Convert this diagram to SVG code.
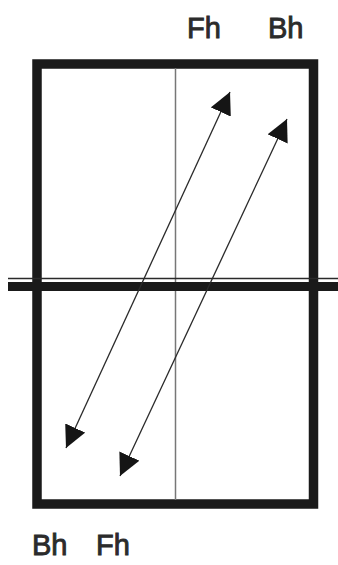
<svg xmlns="http://www.w3.org/2000/svg" width="338" height="565" viewBox="0 0 338 565">
  <style>
    .lbl { font-family: "Liberation Sans", Arial, sans-serif; font-size: 29px; fill: #2b2b2b; stroke: #2b2b2b; stroke-width: 0.9; }
    .shaft { stroke: #2a2a2a; stroke-width: 1.3; fill: none; marker-start: url(#ah); marker-end: url(#ah); }
  </style>
  <defs>
    <marker id="ah" viewBox="0 0 22 22" refX="22" refY="11" markerWidth="22" markerHeight="22" markerUnits="userSpaceOnUse" orient="auto-start-reverse">
      <path d="M0,0 L22,11 L0,22 z" fill="#151515"/>
    </marker>
  </defs>
  <rect width="338" height="565" fill="#ffffff"/>
  <g id="table">
    <rect x="37" y="64" width="276.5" height="440" fill="#ffffff" stroke="#1a1a1a" stroke-width="9.5"/>
    <line x1="175.5" y1="68" x2="175.5" y2="500" stroke="#777777" stroke-width="1.5"/>
  </g>
  <g id="net">
    <line x1="8" y1="278.5" x2="338" y2="278.5" stroke="#2a2a2a" stroke-width="1.3"/>
    <rect x="8" y="282" width="330" height="9" fill="#1a1a1a"/>
  </g>
  <g id="connectors">
    <line class="shaft" x1="66" y1="448" x2="230" y2="92"/>
    <line class="shaft" x1="120" y1="476" x2="287" y2="119"/>
  </g>
  <g id="label-top-fh"><text class="lbl" x="187" y="38">Fh</text></g>
  <g id="label-top-bh"><text class="lbl" x="268" y="38">Bh</text></g>
  <g id="label-bottom-bh"><text class="lbl" x="32" y="555">Bh</text></g>
  <g id="label-bottom-fh"><text class="lbl" x="96" y="555">Fh</text></g>
</svg>
